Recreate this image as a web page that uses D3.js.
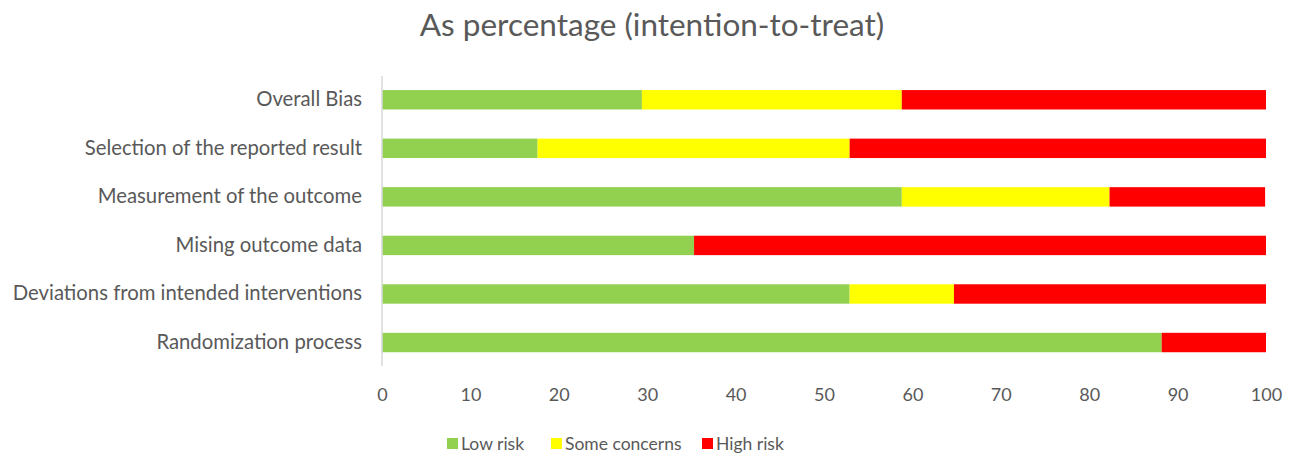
<!DOCTYPE html>
<html><head><meta charset="utf-8">
<script src="https://cdn.jsdelivr.net/npm/d3@7"></script>
<style>body{margin:0;background:#fff;} svg{display:block;}</style>
</head><body>
<svg id="c" width="1298" height="458"></svg>
<script>
const categories = ["Overall Bias","Selection of the reported result","Measurement of the outcome","Mising outcome data","Deviations from intended interventions","Randomization process"];
const lowRisk = [29.4, 17.6, 58.8, 35.3, 52.9, 88.2];
const someConcerns = [29.4, 35.3, 23.5, 0, 11.8, 0];
const highRisk = [41.2, 47.1, 17.6, 64.7, 35.3, 11.8];
const seriesNames = ["Low risk","Some concerns","High risk"];
const seriesColors = ["#92d050","#ffff00","#ff0000"];
const xTicks = [0,10,20,30,40,50,60,70,80,90,100];
const title = "As percentage (intention-to-treat)";

const font = "Lato, 'Open Sans', sans-serif";
const svg = d3.select("#c");
const x = d3.scaleLinear().domain([0,100]).range([382,1266]);
const y = d3.scaleBand().domain(categories).range([75.5,366.8]).paddingInner(0.6).paddingOuter(0.3);

const rows = categories.map((c,i)=>({cat:c, "Low risk":lowRisk[i], "Some concerns":someConcerns[i], "High risk":highRisk[i]}));
const stacked = d3.stack().keys(seriesNames)(rows);

svg.append("text").attr("x",652).attr("y",36).attr("text-anchor","middle")
  .attr("font-family",font).attr("font-size",31.5).attr("fill","#595959").text(title);

svg.append("g").selectAll("g").data(stacked).join("g")
  .attr("fill",(d,i)=>seriesColors[i])
  .selectAll("rect").data(d=>d.filter(p=>p[1]-p[0]>0)).join("rect")
  .attr("x",d=>x(d[0])).attr("width",d=>x(d[1])-x(d[0]))
  .attr("y",d=>y(d.data.cat)).attr("height",y.bandwidth());

svg.append("line").attr("x1",x(0)).attr("x2",x(0)).attr("y1",76).attr("y2",366)
  .attr("stroke","#d9d9d9").attr("stroke-width",1.5);

// category labels
const yAxis = svg.append("g").attr("transform",`translate(${x(0)},0)`)
  .call(d3.axisLeft(y).tickSize(0).tickPadding(20));
yAxis.select(".domain").remove();
yAxis.selectAll("text").attr("font-family",font).attr("font-size",20.3).attr("fill","#595959");

// x tick labels
const xAxis = svg.append("g").attr("transform","translate(0,366)")
  .call(d3.axisBottom(x).tickValues(xTicks).tickSize(0).tickPadding(22));
xAxis.select(".domain").remove();
xAxis.selectAll("text").attr("font-family",font).attr("font-size",18).attr("fill","#595959");

// legend
const legendX = [447, 551, 702];
const lg = svg.append("g").selectAll("g").data(seriesNames).join("g")
  .attr("transform",(d,i)=>`translate(${legendX[i]},438)`);
lg.append("rect").attr("width",11).attr("height",11).attr("fill",(d,i)=>seriesColors[i]);
lg.append("text").attr("x",14).attr("y",12).attr("font-family",font).attr("font-size",17.5)
  .attr("fill","#595959").text(d=>d);
</script>
</body></html>
